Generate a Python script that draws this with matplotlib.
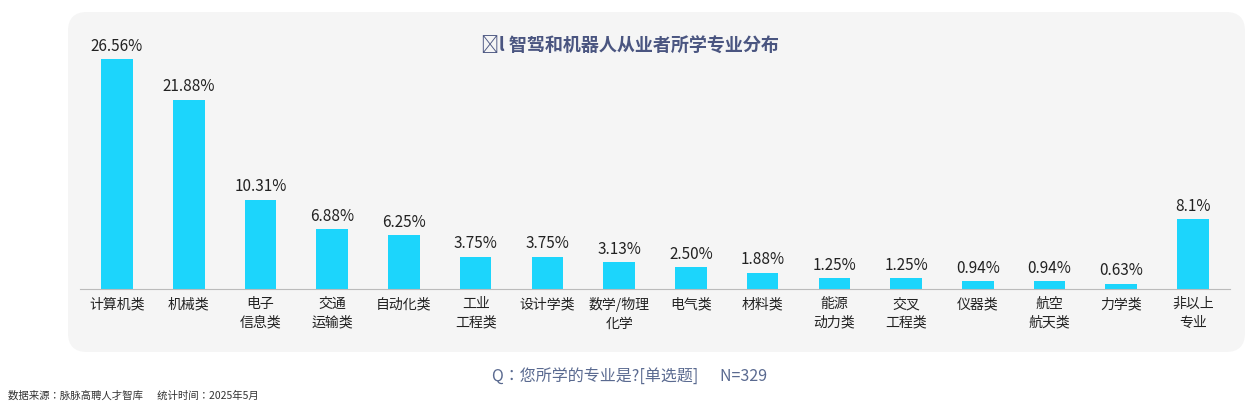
import matplotlib
matplotlib.use("Agg")
import matplotlib.pyplot as plt
from matplotlib.patches import FancyBboxPatch
from matplotlib import font_manager as fm

cjk = [f.name for f in fm.fontManager.ttflist if 'CJK' in f.name]
pref = [n for n in cjk if 'SC' in n] or cjk
plt.rcParams['font.family'] = 'sans-serif'
plt.rcParams['font.sans-serif'] = (pref[:1] if pref else []) + ['Noto Sans CJK SC', 'Noto Sans CJK JP', 'DejaVu Sans']
plt.rcParams['axes.unicode_minus'] = False

categories = ["计算机类", "机械类", "电子\n信息类", "交通\n运输类", "自动化类", "工业\n工程类", "设计学类",
              "数学/物理\n化学", "电气类", "材料类", "能源\n动力类", "交叉\n工程类", "仪器类", "航空\n航天类",
              "力学类", "非以上\n专业"]
values = [26.56, 21.88, 10.31, 6.88, 6.25, 3.75, 3.75, 3.13, 2.50, 1.88, 1.25, 1.25, 0.94, 0.94, 0.63, 8.1]
value_labels = ["26.56%", "21.88%", "10.31%", "6.88%", "6.25%", "3.75%", "3.75%", "3.13%", "2.50%",
                "1.88%", "1.25%", "1.25%", "0.94%", "0.94%", "0.63%", "8.1%"]

W, H = 1260, 420
fig = plt.figure(figsize=(12.6, 4.2), dpi=100)
fig.patch.set_facecolor('white')

panel = FancyBboxPatch((68 / W, 1 - 352 / H), (1245 - 68) / W, (352 - 12) / H,
                       boxstyle="round,pad=0,rounding_size=0.015", transform=fig.transFigure,
                       facecolor='#F5F5F5', edgecolor='none', zorder=-5, mutation_aspect=3)
fig.patches.append(panel)

ax = fig.add_axes([80 / W, 1 - 289 / H, (1230 - 80) / W, (289 - 20) / H])
ax.set_zorder(2)
ax.set_facecolor('none')
x = list(range(len(categories)))
ax.bar(x, values, width=0.44, color='#1CD5FC', zorder=2)
for xi, v, lab in zip(x, values, value_labels):
    ax.text(xi, v + 0.5, lab, ha='center', va='bottom', fontsize=11, color='#222222')
ax.set_xlim(-0.516, 15.516)
ax.set_ylim(0, 31.06)
ax.set_xticks(x)
ax.set_xticklabels(categories, fontsize=10, color='#222222', linespacing=1.4, va='top')
ax.tick_params(axis='x', length=0, pad=6)
ax.set_yticks([])
for s in ['top', 'right', 'left']:
    ax.spines[s].set_visible(False)
ax.spines['bottom'].set_color('#BBBBBB')

fig.text(0.5, 1 - 46 / H, "ıl 智驾和机器人从业者所学专业分布", ha='center', va='center',
         fontsize=13, fontweight='bold', color='#4A5580')
fig.text(0.5, 1 - 377 / H, "Q：您所学的专业是?[单选题]      N=329", ha='center', va='center',
         fontsize=11.5, color='#5A6A90')
fig.text(8 / W, 1 - 396 / H, "数据来源：脉脉高聘人才智库      统计时间：2025年5月", ha='left', va='center',
         fontsize=7.5, color='#333333')

fig.savefig("out.png", dpi=100)
